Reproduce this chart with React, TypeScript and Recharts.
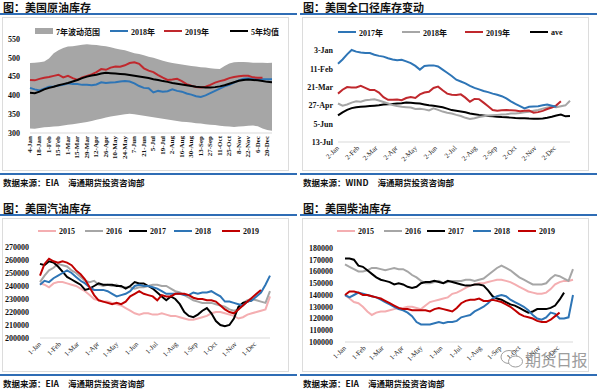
import React from 'react';
import { ComposedChart, LineChart, Line, Area, XAxis, YAxis } from 'recharts';

// ---------- shared axis labels ----------
const weekLabels = [
  '4-Jan', '11-Jan', '18-Jan', '25-Jan', '1-Feb', '8-Feb', '15-Feb', '22-Feb', '1-Mar', '8-Mar',
  '15-Mar', '22-Mar', '29-Mar', '5-Apr', '12-Apr', '19-Apr', '26-Apr', '3-May', '10-May', '17-May',
  '24-May', '31-May', '7-Jun', '14-Jun', '21-Jun', '28-Jun', '5-Jul', '12-Jul', '19-Jul', '26-Jul',
  '2-Aug', '9-Aug', '16-Aug', '23-Aug', '30-Aug', '6-Sep', '13-Sep', '20-Sep', '27-Sep', '4-Oct',
  '11-Oct', '18-Oct', '25-Oct', '1-Nov', '8-Nov', '15-Nov', '22-Nov', '29-Nov', '6-Dec', '13-Dec',
  '20-Dec', '27-Dec',
];
// week position of each month start (weeks since first week of the year)
const monthTicks = [0, 4.43, 8.43, 12.86, 17.14, 21.57, 25.86, 30.29, 34.71, 39, 43.43, 47.71];
const monthLabels2 = ['2-Jan', '2-Feb', '2-Mar', '2-Apr', '2-May', '2-Jun', '2-Jul', '2-Aug', '2-Sep', '2-Oct', '2-Nov', '2-Dec'];
const monthLabels1 = ['1-Jan', '1-Feb', '1-Mar', '1-Apr', '1-May', '1-Jun', '1-Jul', '1-Aug', '1-Sep', '1-Oct', '1-Nov', '1-Dec'];

// ---------- 美国原油库存 ----------
const crudeTicks = [300, 350, 400, 450, 500, 550];
const band7High = [
  486, 487, 488, 490, 498, 512, 520, 526, 530, 531, 533, 535, 536, 535, 534, 532, 531, 528, 525, 522,
  520, 516, 512, 510, 507, 503, 500, 496, 492, 489, 486, 484, 482, 480, 478, 477, 475, 474, 472, 471,
  470, 478, 485, 488, 489, 489, 488, 487, 487, 487, 486, 487,
];
const band7Low = [
  312, 311, 313, 315, 316, 317, 318, 320, 322, 323, 325, 327, 329, 332, 335, 338, 341, 344, 346, 348,
  350, 351, 350, 348, 346, 344, 342, 340, 338, 336, 334, 332, 330, 329, 328, 326, 325, 323, 322, 321,
  319, 318, 317, 316, 317, 318, 319, 320, 318, 312, 308, 306,
];
const crude2018 = [
  420, 416, 413, 418, 423, 424, 426, 428, 432, 430, 430, 428, 428, 427, 429, 435, 433, 434, 435, 437,
  438, 437, 432, 425, 420, 419, 408, 412, 410, 411, 416, 412, 410, 405, 402, 398, 396, 400, 406, 412,
  418, 424, 428, 434, 440, 444, 445, 444, 443, 443, 443, 443,
];
const crude2019 = [
  441, 440, 444, 447, 449, 452, 455, 448, 452, 446, 441, 448, 452, 456, 462, 470, 468, 474, 477, 476,
  480, 486, 488, 484, 472, 466, 462, 454, 447, 441, 442, 444, 438, 430, 426, 422, 421, 423, 428, 434,
  438, 441, 446, 449, 451, 452, 452, 448, 447, 447,
];
const crudeAvg5 = [
  407, 406, 410, 416, 420, 423, 427, 430, 433, 437, 441, 446, 450, 453, 455, 458, 460, 459, 458, 457,
  456, 454, 452, 450, 448, 446, 443, 441, 438, 436, 433, 431, 429, 427, 425, 423, 422, 421, 421, 422,
  424, 427, 431, 435, 439, 441, 442, 441, 440, 438, 436, 435,
];

// ---------- 美国全口径库存变动 ----------
const totalTicks = [0, 1, 2, 3, 4, 5];
const totalTickLabels = ['13-Jul', '5-Jun', '27-Apr', '21-Mar', '11-Feb', '3-Jan'];
const total2017 = [
  4.27, 4.5, 4.78, 5.02, 4.93, 4.88, 4.86, 4.85, 4.76, 4.7, 4.66, 4.57, 4.5, 4.46, 4.49, 4.4, 4.3, 4.15, 3.95, 4.15,
  4.18, 4.18, 4.12, 3.95, 3.78, 3.6, 3.4, 3.3, 3.2, 3.06, 2.95, 2.87, 2.78, 2.72, 2.64, 2.58, 2.5, 2.38, 2.22, 2.08,
  1.96, 1.83, 1.92, 1.94, 1.95, 2.0, 2.04, 1.98, 1.92,
];
const total2018 = [
  2.1, 1.98, 2.05, 2.15, 2.22, 2.2, 2.28, 2.3, 2.33, 2.26, 2.18, 2.1, 2.02, 1.96, 1.92, 1.9, 1.88, 1.8, 1.82, 1.78,
  1.72, 1.84, 1.75, 1.66, 1.6, 1.55, 1.48, 1.42, 1.32, 1.26, 1.3, 1.36, 1.4, 1.44, 1.46, 1.48, 1.5, 1.52, 1.55, 1.55,
  1.58, 1.62, 1.65, 1.7, 1.75, 1.82, 1.88, 1.92, 1.9, 1.95, 2.0, 2.25,
];
const total2019 = [
  2.64, 2.85, 3.0, 2.98, 2.98, 3.06, 2.95, 2.84, 2.84, 2.7, 2.45, 2.3, 2.3, 2.32, 2.28, 2.4, 2.45, 2.4, 2.6, 2.7,
  2.74, 2.95, 3.02, 2.82, 2.64, 2.58, 2.56, 2.6, 2.42, 2.2, 2.35, 2.34, 2.15, 1.95, 1.74, 1.7, 1.73, 1.74, 1.73, 1.72,
  1.68, 1.7, 1.72, 1.6, 1.63, 1.7, 1.8, 1.88, 2.0, 2.22,
];
const totalAve = [
  1.45, 1.62, 1.75, 1.85, 1.9, 1.92, 1.94, 1.96, 1.98, 2.0, 2.04, 2.06, 2.08, 2.1, 2.12, 2.15, 2.14, 2.12, 2.1, 2.05,
  2.0, 1.98, 1.94, 1.9, 1.82, 1.74, 1.7, 1.66, 1.62, 1.56, 1.52, 1.48, 1.45, 1.42, 1.4, 1.38, 1.36, 1.35, 1.33, 1.31,
  1.3, 1.3, 1.28, 1.27, 1.27, 1.28, 1.32, 1.38, 1.45, 1.5, 1.4, 1.42,
];

// ---------- 美国汽油库存 (千桶, x1000 below) ----------
const gasTicks = [200000, 210000, 220000, 230000, 240000, 250000, 260000, 270000];
const gas2015 = [
  242, 241, 239, 242, 243, 243, 242, 241, 240, 238, 236, 233, 230, 229, 228, 228, 227, 226, 225, 223,
  221, 219, 218, 219, 219, 218, 218, 219, 218, 217, 217, 216, 215, 214, 214, 215, 216, 217, 219, 220,
  220, 219, 218, 217, 215, 216, 218, 219, 220, 221, 222, 232,
];
const gas2016 = [
  243, 248, 252, 254, 257, 256, 255, 252, 250, 247, 244, 243, 244, 241, 240, 241, 240, 241, 239, 239,
  239, 238, 239, 239, 240, 241, 241, 240, 240, 238, 236, 235, 233, 231, 229, 228, 227, 227, 227, 226,
  225, 224, 222, 221, 222, 227, 229, 230, 229, 228, 227, 236,
];
const gas2017 = [
  257, 256, 259, 258, 255, 251, 247, 245, 243, 241, 237, 238, 240, 242, 241, 241, 241, 240, 240, 238,
  240, 243, 242, 242, 240, 238, 235, 232, 229, 232, 230, 226, 220, 217, 216, 218, 221, 223, 219, 213,
  210, 209, 210, 215, 224, 227, 228, 229,
];
const gas2018 = [
  241, 244, 243, 246, 248, 250, 252, 250, 247, 244, 242, 239, 237, 237, 237, 236, 234, 232, 233, 234,
  236, 240, 241, 240, 240, 239, 238, 236, 234, 234, 234, 234, 233, 233, 235, 234, 235, 235, 236, 234,
  232, 228, 228, 227, 226, 225, 228, 229, 232, 235, 241, 248,
];
const gas2019 = [
  248, 257, 261, 259, 258, 259, 258, 256, 252, 249, 245, 239, 233, 229, 228, 227, 226, 227, 226, 228,
  232, 234, 236, 234, 233, 232, 229, 233, 232, 232, 234, 234, 234, 233, 231, 230, 230, 229, 229, 228,
  225, 222, 220, 219, 222, 225, 228, 231, 234, 237,
];

// ---------- 美国柴油库存 (千桶) ----------
const dieselTicks = [100000, 110000, 120000, 130000, 140000, 150000, 160000, 170000, 180000];
const diesel2015 = [
  140, 137, 134, 133, 130, 126, 123, 125, 126, 126, 127, 128, 129, 129, 130, 130, 129, 128, 131, 134,
  135, 136, 137, 138, 141, 142, 144, 146, 148, 149, 150, 150, 151, 152, 153, 153, 152, 151, 149, 147,
  145, 143, 142, 141, 141, 142, 145, 149, 151, 152, 152, 153,
];
const diesel2016 = [
  166, 164, 162, 160, 160, 161, 163, 163, 162, 161, 162, 163, 162, 162, 160, 157, 155, 152, 150, 150,
  151, 152, 150, 151, 152, 152, 152, 153, 153, 152, 153, 154, 157, 160, 163, 165, 163, 161, 158, 155,
  153, 151, 149, 149, 149, 150, 154, 157, 156, 154, 152, 162,
];
const diesel2017 = [
  171, 171, 170, 165, 164, 161, 158, 155, 153, 152, 151, 149, 150, 149, 147, 146, 147, 150, 151, 151,
  152, 151, 150, 152, 151, 150, 149, 148, 148, 149, 149, 148, 144, 139, 137, 136, 134, 132, 131, 129,
  127, 125, 126, 128, 128, 128, 129, 131, 136, 142,
];
const diesel2018 = [
  140, 138, 140, 142, 141, 140, 139, 138, 136, 134, 132, 130, 128, 127, 125, 122, 117, 115, 115, 115,
  116, 117, 116, 117, 117, 118, 121, 122, 123, 126, 128, 130, 133, 137, 139, 140, 139, 136, 134, 132,
  130, 127, 123, 120, 119, 121, 125, 124, 120, 120, 121, 140,
];
const diesel2019 = [
  140, 143, 143, 142, 140, 140, 139, 138, 137, 135, 133, 131, 129, 128, 128, 127, 127, 127, 127, 126,
  128, 129, 128, 127, 126, 129, 133, 135, 136, 136, 137, 135, 135, 136, 135, 134, 132, 130, 127, 124,
  122, 121, 120, 118, 117, 117, 119, 122, 125,
];

// ---------- tables for recharts ----------
const crudeTable = weekLabels.map((w, i) => ({
  week: w,
  band: [band7Low[i], band7High[i]],
  y2018: crude2018[i],
  y2019: crude2019[i],
  avg5: crudeAvg5[i],
}));
const totalTable = weekLabels.map((_, i) => ({
  x: i,
  y2017: total2017[i],
  y2018: total2018[i],
  y2019: total2019[i],
  ave: totalAve[i],
}));
const k = (a: number[], i: number) => (a[i] === undefined ? undefined : a[i] * 1000);
const gasTable = weekLabels.map((_, i) => ({
  x: i,
  y2015: k(gas2015, i),
  y2016: k(gas2016, i),
  y2017: k(gas2017, i),
  y2018: k(gas2018, i),
  y2019: k(gas2019, i),
}));
const dieselTable = weekLabels.map((_, i) => ({
  x: i,
  y2015: k(diesel2015, i),
  y2016: k(diesel2016, i),
  y2017: k(diesel2017, i),
  y2018: k(diesel2018, i),
  y2019: k(diesel2019, i),
}));

// ---------- styles ----------
const BLUE_RULE = '#2f6db5';
const C_BLUE = '#2e75b6';
const C_RED = '#c0282d';
const C_DRED = '#c00000';
const C_GRAY = '#a6a6a6';
const C_PINK = '#f4aeb1';
const C_BLACK = '#000000';
const LATIN = "'Liberation Serif', 'Noto Sans CJK SC', serif";
const CJK = "'Noto Sans CJK SC', sans-serif";
const yTick = { fontSize: 8, fontWeight: 700, fontFamily: LATIN, fill: '#111' };

function UpTick({ x, y, payload }: any) {
  return (
    <text x={x} y={y} transform={`rotate(-90 ${x} ${y})`} textAnchor="end" dominantBaseline="central"
      fontSize={7} fontWeight={700} fontFamily={LATIN} fill="#111">
      {payload.value}
    </text>
  );
}

const slantTick = (ticks: number[], labels: string[]) => ({ x, y, payload }: any) => {
  const idx = ticks.indexOf(payload.value);
  return (
    <text x={x} y={y} transform={`rotate(-45 ${x} ${y})`} textAnchor="end" dy="0.3em"
      fontSize={7} fontFamily={LATIN} fill="#222">
      {idx >= 0 ? labels[idx] : ''}
    </text>
  );
};

type Key = { label: string; color: string; x: number; box?: boolean; w?: number };

function Keys({ items, y }: { items: Key[]; y: number }) {
  return (
    <>
      {items.map((it) => (
        <div key={it.label} style={{ position: 'absolute', left: it.x, top: y - 6, height: 12, display: 'flex', alignItems: 'center' }}>
          <div style={{ width: it.w ?? 18, height: it.box ? 6 : 2.5, background: it.color, marginRight: 3 }} />
          <span style={{ fontSize: 8, fontWeight: 700, fontFamily: LATIN, color: '#111', whiteSpace: 'nowrap' }}>{it.label}</span>
        </div>
      ))}
    </>
  );
}

function Panel({ left, top, title, source, children }: { left: number; top: number; title: string; source: string; children: React.ReactNode }) {
  return (
    <div style={{ position: 'absolute', left, top, width: 300, height: 188 }}>
      <div style={{ position: 'absolute', left: 3, top: 1, fontSize: 11, fontWeight: 700, fontFamily: CJK, lineHeight: '13px', color: '#111', whiteSpace: 'nowrap' }}>
        {title}
      </div>
      <div style={{ position: 'absolute', left: 0, top: 13, width: 297, height: 2, background: BLUE_RULE }} />
      <div style={{ position: 'absolute', left: 2, top: 17, width: 287, height: 154, border: '1px solid #dcdcdc', boxSizing: 'border-box' }} />
      {children}
      <div style={{ position: 'absolute', left: 0, top: 173, width: 297, height: 2, background: BLUE_RULE }} />
      <div style={{ position: 'absolute', left: 3, top: 177, fontSize: 8.5, fontWeight: 700, fontFamily: CJK, lineHeight: '11px', color: '#111', whiteSpace: 'nowrap' }}>
        {source}
        <span style={{ marginLeft: 9 }}>海通期货投资咨询部</span>
      </div>
    </div>
  );
}

function CrudeChart() {
  return (
    <div style={{ position: 'absolute', left: 0, top: 0 }}>
      <ComposedChart width={300} height={195} data={crudeTable} margin={{ top: 39, right: 28, bottom: 0, left: 0 }}>
        <XAxis dataKey="week" interval={1} height={62} tickSize={0} tickMargin={3} tick={<UpTick />}
          axisLine={{ stroke: '#d9d9d9' }} tickLine={false} />
        <YAxis domain={[300, 550]} ticks={crudeTicks} interval={0} width={30} tickSize={0} tickMargin={10}
          tick={yTick} axisLine={false} tickLine={false} />
        <Area dataKey="band" stroke="none" fill={C_GRAY} fillOpacity={1} isAnimationActive={false} />
        <Line dataKey="y2018" stroke={C_BLUE} strokeWidth={2} dot={false} isAnimationActive={false} />
        <Line dataKey="y2019" stroke={C_RED} strokeWidth={2} dot={false} isAnimationActive={false} />
        <Line dataKey="avg5" stroke={C_BLACK} strokeWidth={2} dot={false} isAnimationActive={false} />
      </ComposedChart>
    </div>
  );
}

function TotalChart() {
  return (
    <div style={{ position: 'absolute', left: 0, top: 0 }}>
      <LineChart width={300} height={195} data={totalTable} margin={{ top: 50, right: 30, bottom: 0, left: 0 }}>
        <XAxis dataKey="x" type="number" domain={[0, 51]} ticks={monthTicks} interval={0} height={53}
          tickSize={0} tickMargin={5} tick={slantTick(monthTicks, monthLabels2)} axisLine={{ stroke: '#d9d9d9' }} tickLine={false} />
        <YAxis domain={[0, 5]} ticks={totalTicks} interval={0} width={38} tickSize={0} tickMargin={5}
          tickFormatter={(v: number) => totalTickLabels[v]} tick={yTick} axisLine={false} tickLine={false} />
        <Line dataKey="ave" stroke={C_BLACK} strokeWidth={2} dot={false} isAnimationActive={false} />
        <Line dataKey="y2018" stroke={C_GRAY} strokeWidth={2} dot={false} isAnimationActive={false} />
        <Line dataKey="y2019" stroke={C_RED} strokeWidth={2} dot={false} isAnimationActive={false} />
        <Line dataKey="y2017" stroke={C_BLUE} strokeWidth={2} dot={false} isAnimationActive={false} />
      </LineChart>
    </div>
  );
}

function YearChart({ data, ticks, domain, yWidth, yMargin, top, right, height }: any) {
  return (
    <div style={{ position: 'absolute', left: 0, top: 0 }}>
      <LineChart width={300} height={195} data={data} margin={{ top, right, bottom: 0, left: 0 }}>
        <XAxis dataKey="x" type="number" domain={[0, 51]} ticks={monthTicks} interval={0} height={height}
          tickSize={0} tickMargin={5} tick={slantTick(monthTicks, monthLabels1)} axisLine={{ stroke: '#d9d9d9' }} tickLine={false} />
        <YAxis domain={domain} ticks={ticks} interval={0} width={yWidth} tickSize={0} tickMargin={yMargin}
          tick={yTick} axisLine={false} tickLine={false} />
        <Line dataKey="y2015" stroke={C_PINK} strokeWidth={2} dot={false} isAnimationActive={false} />
        <Line dataKey="y2016" stroke={C_GRAY} strokeWidth={2} dot={false} isAnimationActive={false} />
        <Line dataKey="y2017" stroke={C_BLACK} strokeWidth={2} dot={false} isAnimationActive={false} />
        <Line dataKey="y2018" stroke={C_BLUE} strokeWidth={2} dot={false} isAnimationActive={false} />
        <Line dataKey="y2019" stroke={C_DRED} strokeWidth={2} dot={false} isAnimationActive={false} />
      </LineChart>
    </div>
  );
}

export default function App() {
  return (
    <div style={{ position: 'absolute', left: 0, top: 0, width: 600, height: 389, background: '#fff', overflow: 'hidden' }}>
      <Panel left={0} top={0} title="图：美国原油库存" source="数据来源：EIA">
        <CrudeChart />
        <Keys y={31} items={[
          { label: '7年波动范围', color: C_GRAY, x: 35, box: true, w: 18 },
          { label: '2018年', color: C_BLUE, x: 110 },
          { label: '2019年', color: C_RED, x: 164 },
          { label: '5年均值', color: C_BLACK, x: 230 },
        ]} />
      </Panel>
      <Panel left={300} top={0} title="图：美国全口径库存变动" source="数据来源：WIND">
        <TotalChart />
        <Keys y={32} items={[
          { label: '2017年', color: C_BLUE, x: 38 },
          { label: '2018年', color: C_GRAY, x: 102 },
          { label: '2019年', color: C_RED, x: 165 },
          { label: 'ave', color: C_BLACK, x: 230 },
        ]} />
      </Panel>
      <Panel left={0} top={201} title="图：美国汽油库存" source="数据来源：EIA">
        <YearChart data={gasTable} ticks={gasTicks} domain={[200000, 270000]} yWidth={40} yMargin={11} top={46} right={30} height={58} />
        <Keys y={30} items={[
          { label: '2015', color: C_PINK, x: 38 },
          { label: '2016', color: C_GRAY, x: 85 },
          { label: '2017', color: C_BLACK, x: 129 },
          { label: '2018', color: C_BLUE, x: 174 },
          { label: '2019', color: C_DRED, x: 222 },
        ]} />
      </Panel>
      <Panel left={300} top={201} title="图：美国柴油库存" source="数据来源：EIA">
        <YearChart data={dieselTable} ticks={dieselTicks} domain={[100000, 180000]} yWidth={45} yMargin={12} top={47} right={27} height={54} />
        <Keys y={30} items={[
          { label: '2015', color: C_PINK, x: 37 },
          { label: '2016', color: C_GRAY, x: 84 },
          { label: '2017', color: C_BLACK, x: 127 },
          { label: '2018', color: C_BLUE, x: 173 },
          { label: '2019', color: C_DRED, x: 218 },
        ]} />
        <div style={{ position: 'absolute', left: 200, top: 146, display: 'flex', alignItems: 'center', opacity: 0.85 }}>
          <svg width={24} height={20} viewBox="0 0 24 20">
            <ellipse cx={9} cy={8} rx={8} ry={6.5} fill="none" stroke="#8c8c8c" strokeWidth={1} />
            <ellipse cx={15.5} cy={12.5} rx={7} ry={5.5} fill="#fff" stroke="#8c8c8c" strokeWidth={1} />
          </svg>
          <span style={{ fontSize: 16, fontFamily: CJK, color: '#8c8c8c', marginLeft: 1, letterSpacing: -0.5 }}>期货日报</span>
        </div>
      </Panel>
    </div>
  );
}
